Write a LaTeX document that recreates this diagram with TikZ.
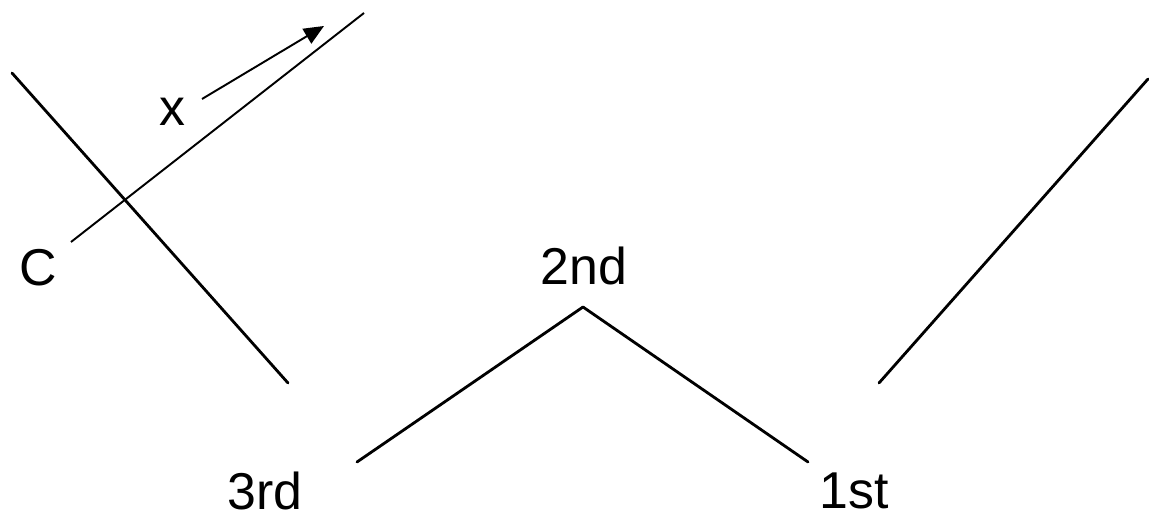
\documentclass[tikz,border=0pt]{standalone}
\usepackage{fontspec}
\setmainfont{Liberation Sans}
\usetikzlibrary{arrows.meta}

\begin{document}
\begin{tikzpicture}[x=0.02cm,y=-0.02cm,
	thick line/.style={line width=1.6pt,line cap=round},
	thin line/.style={line width=1.1pt},
	lbl/.style={font=\fontsize{29.5}{34}\selectfont,inner sep=0pt}]
	
	\useasboundingbox (0,0) rectangle (1149,519);
	
	\coordinate (a1) at (12, 73);
	\coordinate (a2) at (288, 383);
	\coordinate (c1) at (71, 242);
	\coordinate (c2) at (364, 13);
	\coordinate (x1) at (202, 99);
	\coordinate (x2) at (324, 26);
	\coordinate (p3) at (357, 462);
	\coordinate (pk) at (583, 307);
	\coordinate (p1) at (808, 462);
	\coordinate (r1) at (879, 383);
	\coordinate (r2) at (1148, 79);
	
	\node[lbl] (C)   at (38, 268)  {C};
	\node[lbl] (x)   at (172, 112) {x};
	\node[lbl] (2nd) at (584, 266) {2nd};
	\node[lbl] (3rd) at (265, 491) {3rd};
	\node[lbl] (1st) at (854, 491) {1st};
	
	\path[thick line] (a1) edge (a2);
	\path[thin line] (c1) edge (c2);
	\path[thin line,-{Triangle[length=0.4cm,width=0.34cm]}] (x1) edge (x2);
	\path[thick line] (p3) edge (pk);
	\path[thick line] (pk) edge (p1);
	\path[thick line] (r1) edge (r2);
\end{tikzpicture}
\end{document}
